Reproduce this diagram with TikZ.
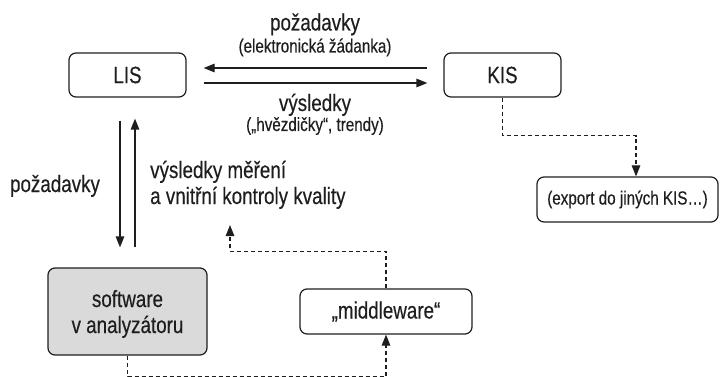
\documentclass[tikz,border=0pt]{standalone}
\usepackage{fontspec}
\setmainfont[FakeStretch=0.8,FakeBold=0.35]{Liberation Sans}
\usetikzlibrary{arrows.meta}
\definecolor{ink}{HTML}{1E1E1E}
\definecolor{boxgray}{HTML}{DADADA}
\newcommand\bigtxt{\fontsize{23.5}{26}\selectfont}
\newcommand\smalltxt{\fontsize{19}{21}\selectfont}
\begin{document}
\begin{tikzpicture}[x=1pt,y=-1pt,
  box/.style={draw=ink, line width=1.2pt, rounded corners=7pt, inner sep=0pt,
              align=center, font=\bigtxt, text=ink, minimum height=44pt},
  lbl/.style={inner sep=0pt, font=\bigtxt, text=ink},
  lbls/.style={inner sep=0pt, font=\smalltxt, text=ink},
  conn/.style={draw=ink, line width=1.2pt, -{Triangle[length=11pt,width=8.5pt]}},
  dconn/.style={draw=ink, line width=1.1pt, dash pattern=on 4pt off 3pt,
                -{Triangle[length=11pt,width=8.5pt]}}]
\useasboundingbox (0,0) rectangle (728,377);

% main blocks
\node[box, minimum width=117pt] (lis) at (127.5,75) {LIS};
\node[box, minimum width=117pt] (kis) at (502.5,75) {KIS};
\node[box, fill=boxgray, minimum width=159pt, minimum height=87pt, text depth=0pt]
  (sw) at (127.5,311.5) {software\\v analyzátoru};
\node[box, minimum width=172pt, minimum height=45pt] (mw) at (386,311.5) {„middleware“};
\node[box, minimum width=181pt, minimum height=45pt, font=\smalltxt]
  (exp) at (627.5,199.5) {(export do jiných KIS…)};

% labels
\node[lbl, anchor=base] (reqtop) at (315,30.5) {požadavky};
\node[lbls, anchor=base] (reqsub) at (315,52.5) {(elektronická žádanka)};
\node[lbl, anchor=base] (restop) at (315,111) {výsledky};
\node[lbls, anchor=base] (ressub) at (315,131) {(„hvězdičky“, trendy)};
\node[lbl, anchor=base] (reqleft) at (55,192) {požadavky};
\node[lbl, anchor=base west] (meas1) at (150,178) {výsledky měření};
\node[lbl, anchor=base west] (meas2) at (150,204) {a vnitřní kontroly kvality};
\coordinate (meastip) at (230,225);

% LIS <-> KIS
\draw[conn, shorten <=16pt, shorten >=17pt] ([yshift=7pt]kis.west) -- ([yshift=7pt]lis.east);
\draw[conn, shorten <=17pt, shorten >=16pt] ([yshift=-8pt]lis.east) -- ([yshift=-8pt]kis.west);

% LIS <-> analyser software
\draw[conn, shorten <=23pt, shorten >=20pt] ([xshift=-7.5pt]lis.south) -- ([xshift=-7.5pt]sw.north);
\draw[conn, shorten <=20pt, shorten >=21pt] ([xshift=7.5pt]sw.north) -- ([xshift=7.5pt]lis.south);

% dashed data paths
\draw[dconn] (sw.south) -- ++(0,21) -| (mw.south);
\draw[dconn] (mw.north) -- ++(0,-37) -| (meastip);
\draw[dconn] (kis.south) -- ++(0,38) -| ([xshift=8.5pt]exp.north);
\end{tikzpicture}
\end{document}
